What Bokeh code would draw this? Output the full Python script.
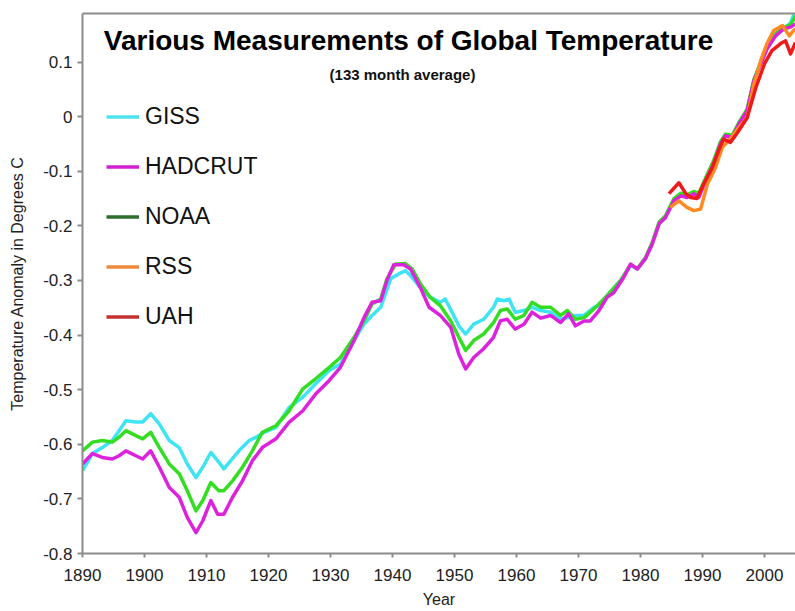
from bokeh.plotting import figure
from bokeh.models import (Range1d, FixedTicker, NumeralTickFormatter, LinearAxis,
                          Legend, LegendItem, Label)
from bokeh.embed import file_html
from bokeh.resources import INLINE

# ---------------- data ----------------
giss_year = [1890, 1891.6, 1893.2, 1894.8, 1895.9, 1897.0, 1898.6, 1899.7, 1901.0, 1902.4,
             1904.0, 1905.6, 1906.9, 1908.3, 1909.4, 1910.7, 1911.8, 1912.8, 1913.9, 1915.3,
             1916.9, 1918.0, 1919.3, 1921.2, 1923.3, 1925.5, 1927.6, 1929.8, 1931.6, 1933.8,
             1935.4, 1936.7, 1938.1, 1939.7, 1941.0, 1942.1, 1942.9, 1944.5, 1946.1, 1947.7,
             1948.5, 1949.6, 1950.7, 1951.8, 1953.1, 1954.7, 1956.3, 1956.9, 1958.0, 1958.8,
             1959.8, 1961.2, 1962.5, 1963.9, 1965.5, 1967.1, 1968.4, 1969.5, 1970.9, 1972.5,
             1973.3, 1974.6, 1976.8, 1978.4, 1979.5, 1980.8, 1981.9, 1983.0, 1984.0, 1985.4,
             1986.5, 1987.5, 1988.6, 1989.4, 1990.5, 1991.8, 1992.9, 1993.7, 1994.8, 1995.9,
             1997.2, 1998.3, 1999.4, 2000.4, 2001.8, 2003.1, 2004.2, 2005.0]
giss_val = [-0.648, -0.617, -0.606, -0.593, -0.575, -0.557, -0.559, -0.559, -0.544, -0.563,
            -0.593, -0.606, -0.636, -0.661, -0.642, -0.615, -0.630, -0.645, -0.630, -0.611,
            -0.593, -0.587, -0.578, -0.569, -0.533, -0.514, -0.489, -0.465, -0.453, -0.410,
            -0.380, -0.364, -0.349, -0.297, -0.288, -0.282, -0.291, -0.313, -0.331, -0.340,
            -0.334, -0.358, -0.383, -0.398, -0.380, -0.371, -0.349, -0.334, -0.337, -0.334,
            -0.358, -0.355, -0.349, -0.355, -0.358, -0.371, -0.368, -0.364, -0.364, -0.349,
            -0.346, -0.328, -0.300, -0.272, -0.279, -0.260, -0.233, -0.196, -0.185, -0.152,
            -0.143, -0.146, -0.140, -0.145, -0.115, -0.084, -0.048, -0.033, -0.036, -0.011,
            0.013, 0.068, 0.099, 0.126, 0.150, 0.160, 0.172, 0.195]

hadcrut_year = [1890, 1891.6, 1893.2, 1894.8, 1895.9, 1897.0, 1898.6, 1899.7, 1901.0, 1902.4,
                1904.0, 1905.6, 1906.9, 1908.3, 1909.4, 1910.7, 1911.8, 1912.8, 1914.2, 1915.8,
                1917.4, 1919.0, 1921.2, 1923.3, 1925.5, 1927.6, 1929.8, 1931.6, 1933.8, 1935.4,
                1936.7, 1938.1, 1939.1, 1940.2, 1941.8, 1942.9, 1944.5, 1945.9, 1947.7, 1949.4,
                1950.7, 1951.8, 1953.1, 1954.7, 1956.3, 1957.4, 1958.5, 1959.8, 1961.2, 1962.5,
                1963.9, 1965.5, 1967.1, 1968.4, 1969.5, 1970.9, 1971.9, 1973.3, 1974.6, 1975.7,
                1977.3, 1978.4, 1979.5, 1980.8, 1981.9, 1983.0, 1984.0, 1985.4, 1986.5, 1987.5,
                1988.6, 1989.4, 1990.5, 1991.8, 1992.9, 1993.7, 1994.8, 1995.9, 1997.2, 1998.3,
                1999.4, 2000.4, 2001.8, 2003.1, 2004.2, 2005.0]
hadcrut_val = [-0.636, -0.617, -0.624, -0.627, -0.621, -0.612, -0.621, -0.627, -0.612, -0.642,
               -0.679, -0.697, -0.734, -0.762, -0.740, -0.703, -0.728, -0.728, -0.697, -0.667,
               -0.630, -0.606, -0.590, -0.560, -0.539, -0.508, -0.483, -0.459, -0.410, -0.368,
               -0.340, -0.337, -0.300, -0.271, -0.271, -0.279, -0.313, -0.349, -0.364, -0.386,
               -0.435, -0.462, -0.441, -0.425, -0.404, -0.374, -0.371, -0.389, -0.380, -0.358,
               -0.369, -0.364, -0.377, -0.361, -0.383, -0.374, -0.374, -0.355, -0.331, -0.322,
               -0.294, -0.270, -0.279, -0.260, -0.233, -0.196, -0.185, -0.154, -0.145, -0.148,
               -0.141, -0.148, -0.117, -0.086, -0.050, -0.035, -0.038, -0.013, 0.011, 0.066,
               0.097, 0.124, 0.148, 0.161, 0.164, 0.170]

noaa_year = [1890, 1891.6, 1893.2, 1894.8, 1895.9, 1897.0, 1898.6, 1899.7, 1901.0, 1902.4,
             1904.0, 1905.6, 1906.9, 1908.3, 1909.4, 1910.7, 1912.0, 1912.8, 1914.2, 1915.8,
             1917.4, 1919.0, 1921.2, 1923.3, 1925.5, 1927.6, 1929.8, 1931.6, 1933.8, 1935.4,
             1936.7, 1938.1, 1939.1, 1940.5, 1942.1, 1943.2, 1944.5, 1946.1, 1947.7, 1949.4,
             1950.7, 1951.8, 1953.1, 1954.7, 1956.3, 1957.4, 1958.5, 1959.8, 1961.2, 1962.5,
             1963.9, 1965.5, 1967.1, 1968.2, 1969.5, 1970.9, 1972.5, 1974.6, 1976.8, 1978.4,
             1979.5, 1980.8, 1981.9, 1983.0, 1984.0, 1985.4, 1986.5, 1987.5, 1988.6, 1989.4,
             1990.5, 1991.8, 1992.9, 1993.7, 1994.8, 1995.9, 1997.2, 1998.3, 1999.4, 2000.4,
             2001.8, 2003.1, 2004.2, 2005.0]
noaa_val = [-0.612, -0.596, -0.593, -0.596, -0.587, -0.575, -0.584, -0.590, -0.578, -0.606,
            -0.636, -0.654, -0.685, -0.722, -0.703, -0.670, -0.685, -0.685, -0.667, -0.642,
            -0.612, -0.578, -0.566, -0.539, -0.499, -0.480, -0.459, -0.441, -0.404, -0.374,
            -0.343, -0.334, -0.297, -0.270, -0.269, -0.279, -0.306, -0.331, -0.346, -0.374,
            -0.404, -0.428, -0.410, -0.398, -0.377, -0.355, -0.352, -0.371, -0.364, -0.340,
            -0.349, -0.349, -0.364, -0.355, -0.371, -0.368, -0.352, -0.328, -0.300, -0.271,
            -0.278, -0.258, -0.230, -0.193, -0.182, -0.150, -0.140, -0.143, -0.137, -0.140,
            -0.112, -0.080, -0.046, -0.032, -0.034, -0.010, 0.014, 0.068, 0.100, 0.128,
            0.152, 0.164, 0.168, 0.185]

rss_year = [1984.8, 1986.2, 1987.5, 1988.6, 1989.7, 1990.8, 1992.1, 1993.2, 1994.5, 1995.9,
            1997.2, 1998.3, 1999.4, 2000.4, 2001.5, 2002.9, 2004.0, 2004.7, 2005.0]
rss_val = [-0.166, -0.154, -0.166, -0.172, -0.169, -0.123, -0.093, -0.056, -0.041, -0.019,
           -0.002, 0.060, 0.103, 0.134, 0.158, 0.167, 0.148, 0.158, 0.160]

uah_year = [1984.6, 1986.2, 1987.3, 1988.1, 1989.1, 1990.2, 1991.6, 1992.6, 1993.4, 1994.5,
            1995.6, 1997.2, 1998.6, 2000.0, 2001.2, 2002.6, 2003.4, 2004.2, 2005.0]
uah_val = [-0.141, -0.121, -0.141, -0.148, -0.150, -0.123, -0.093, -0.062, -0.041, -0.047,
           -0.030, -0.002, 0.053, 0.097, 0.121, 0.134, 0.139, 0.115, 0.136]

series_names = ["GISS", "HADCRUT", "NOAA", "RSS", "UAH"]
x_ticks = [1890, 1900, 1910, 1920, 1930, 1940, 1950, 1960, 1970, 1980, 1990, 2000]
y_ticks = [0.1, 0, -0.1, -0.2, -0.3, -0.4, -0.5, -0.6, -0.7, -0.8]

title_text = "Various Measurements of Global Temperature"
subtitle_text = "(133 month average)"
x_title = "Year"
y_title = "Temperature Anomaly in Degrees C"

# ---------------- styles ----------------
line_colors = {"GISS": "#3fe4f4", "HADCRUT": "#dc22dc", "NOAA": "#33dd22",
               "RSS": "#ff8a22", "UAH": "#ee1a1a"}
legend_colors = {"GISS": "#4fe3ee", "HADCRUT": "#d11fd1", "NOAA": "#2d6e2d",
                 "RSS": "#ef8a3c", "UAH": "#c43030"}
FONT = "Liberation Sans"
AXIS_GRAY = "#8c8c8c"
NAN = float("nan")

p = figure(width=795, height=611, output_backend="svg", toolbar_location=None,
           x_range=Range1d(1890, 2005), y_range=Range1d(-0.8, 0.189),
           min_border_left=82, min_border_right=0, min_border_top=13, min_border_bottom=58,
           background_fill_color="white", border_fill_color="white")
p.outline_line_color = None
p.grid.visible = False

# axes
p.xaxis.ticker = FixedTicker(ticks=x_ticks)
p.yaxis.ticker = FixedTicker(ticks=y_ticks)
p.yaxis.formatter = NumeralTickFormatter(format="0.[0]")
for ax in (p.xaxis[0], p.yaxis[0]):
    ax.axis_line_color = AXIS_GRAY
    ax.axis_line_width = 2
    ax.major_tick_line_color = AXIS_GRAY
    ax.major_tick_line_width = 2
    ax.minor_tick_line_color = None
    ax.major_label_text_font = FONT
    ax.major_label_text_font_size = "17px"
    ax.major_label_text_color = "#222222"
    ax.axis_label_text_font = FONT
    ax.axis_label_text_font_size = "16px"
    ax.axis_label_text_font_style = "normal"
    ax.axis_label_text_color = "#222222"
p.xaxis.major_tick_in = 0
p.xaxis.major_tick_out = 4
p.xaxis.major_label_standoff = 11
p.xaxis.axis_label = x_title
p.xaxis.axis_label_standoff = 7
p.yaxis.major_tick_in = 0
p.yaxis.major_tick_out = 5
p.yaxis.major_label_standoff = 5
p.yaxis.axis_label = y_title
p.yaxis.axis_label_standoff = 14

top = LinearAxis(ticker=FixedTicker(ticks=[]), axis_line_color=AXIS_GRAY, axis_line_width=2,
                 major_tick_in=0, major_tick_out=0, minor_tick_in=0, minor_tick_out=0,
                 major_label_text_font_size="0px")
p.add_layout(top, "above")

# data lines
data = {"GISS": (giss_year, giss_val), "NOAA": (noaa_year, noaa_val),
        "HADCRUT": (hadcrut_year, hadcrut_val), "RSS": (rss_year, rss_val),
        "UAH": (uah_year, uah_val)}
for name in ["GISS", "NOAA", "HADCRUT", "RSS", "UAH"]:
    xs, ys = data[name]
    p.line(xs, ys, line_color=line_colors[name], line_width=3.5, line_join="round")

# legend (swatch colours as in the reference key)
items = []
for name in series_names:
    r = p.line([NAN], [NAN], line_color=legend_colors[name], line_width=3.5)
    items.append(LegendItem(label=name, renderers=[r]))
legend = Legend(items=items, location=(24, 223), orientation="vertical",
                glyph_width=33, glyph_height=27, label_height=27, spacing=23,
                padding=0, margin=0, label_standoff=6,
                label_text_font=FONT, label_text_font_size="23px", label_text_color="#111111",
                border_line_color=None, background_fill_alpha=0)
p.add_layout(legend, "center")

# title texts
p.add_layout(Label(x=326, y=513, x_units="screen", y_units="screen", text=title_text,
                   text_font=FONT, text_font_size="28px", text_font_style="bold",
                   text_align="center", text_baseline="alphabetic", text_color="#000000"))
p.add_layout(Label(x=320, y=479, x_units="screen", y_units="screen", text=subtitle_text,
                   text_font=FONT, text_font_size="15px", text_font_style="bold",
                   text_align="center", text_baseline="alphabetic", text_color="#111111"))

open("out.html", "w").write(file_html(p, INLINE))
